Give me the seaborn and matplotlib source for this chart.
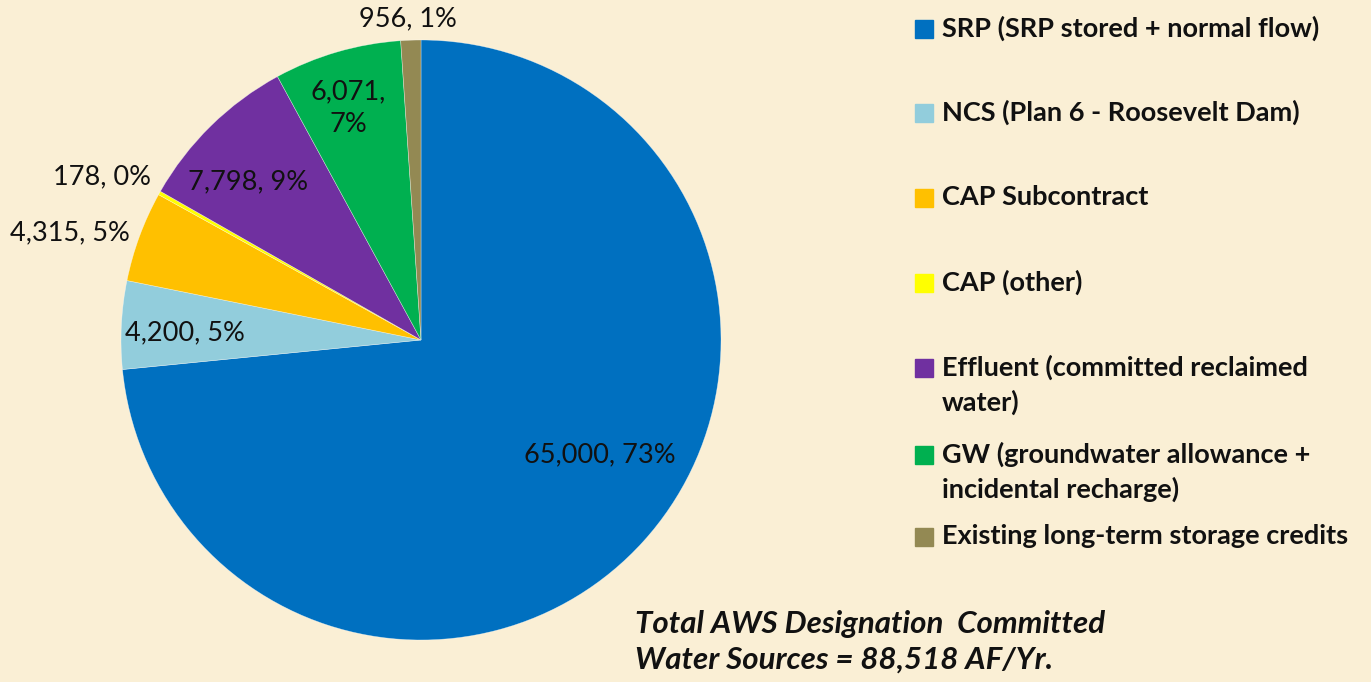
import matplotlib
matplotlib.use("Agg")
import matplotlib.pyplot as plt
import seaborn as sns

# water sources (AF/Yr), clockwise from 12 o'clock
sources = [
    "SRP (SRP stored + normal flow)",
    "NCS (Plan 6 - Roosevelt Dam)",
    "CAP Subcontract",
    "CAP (other)",
    "Effluent (committed reclaimed\nwater)",
    "GW (groundwater allowance +\nincidental recharge)",
    "Existing long-term storage credits",
]
volumes = [65000, 4200, 4315, 178, 7798, 6071, 956]
pct_labels = ["73%", "5%", "5%", "0%", "9%", "7%", "1%"]
colors = ["#0070C0", "#92CDDC", "#FFC000", "#FFFF00", "#7030A0", "#00B050", "#938953"]

total_text = "Total AWS Designation  Committed\nWater Sources = 88,518 AF/Yr."

bg = "#FAEFD5"

sns.set_theme(style="white")
plt.rcParams["font.family"] = ["Lato", "DejaVu Sans"]

fig = plt.figure(figsize=(13.71, 6.82), dpi=100, facecolor=bg)
ax = fig.add_axes([121 / 1371, 42 / 682, 600 / 1371, 600 / 682])
ax.set_facecolor("none")

palette = sns.color_palette(colors)
wedges, _ = ax.pie(volumes, colors=palette, startangle=90, counterclock=False,
                   radius=1.0, wedgeprops=dict(linewidth=0.4, edgecolor="#ffffff88"))
ax.set_xlim(-1, 1)
ax.set_ylim(-1, 1)
ax.set_aspect("equal")
ax.axis("off")

# data label spots (Excel "best fit"-like placement)
label_pos = [(0.597, -0.383), (-0.787, 0.023), (-1.17, 0.357), (-1.063, 0.543),
             (-0.577, 0.527), (-0.243, 0.773), (-0.043, 1.07)]
for v, p, (x, y) in zip(volumes, pct_labels, label_pos):
    txt = f"{v:,}, {p}"
    if v == 6071:
        txt = f"{v:,},\n{p}"
    ax.text(x, y, txt, ha="center", va="center", fontsize=19.5, color="#111111",
            linespacing=1.35)

# legend, drawn by hand so the squares line up with the first text line
legend_y = [29, 113, 198, 283, 368, 455, 537]
for name, col, y in zip(sources, palette, legend_y):
    fy = 1 - y / 682
    fig.patches.append(plt.Rectangle((915 / 1371, fy - 9 / 682), 18 / 1371, 18 / 682,
                                     transform=fig.transFigure, color=col))
    fig.text(942 / 1371, fy + 13 / 682, name, ha="left", va="top", fontsize=19.5,
             fontweight="bold", color="#111111", linespacing=1.45)

fig.text(635 / 1371, 1 - 610 / 682, total_text, ha="left", va="top", fontsize=22.5,
         fontweight="bold", fontstyle="italic", color="#111111", linespacing=1.35)

fig.savefig("out.png", dpi=100, facecolor=bg)
